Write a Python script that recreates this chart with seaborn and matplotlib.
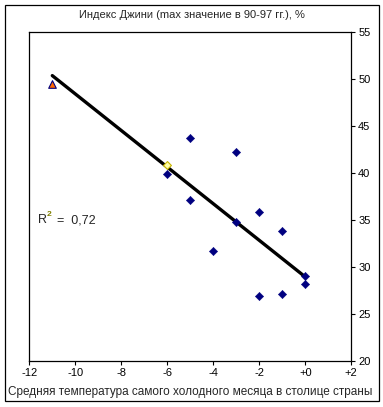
import numpy as np
import pandas as pd
import matplotlib
matplotlib.use("Agg")
import matplotlib.pyplot as plt
import matplotlib.patches as patches
import seaborn as sns

# Данные
temp_main = [-6, -5, -5, -4, -3, -3, -2, -2, -1, -1, 0, 0]
gini_main = [39.9, 43.7, 37.1, 31.7, 42.2, 34.75, 35.8, 26.9, 33.8, 27.1, 29.0, 28.2]
temp_tri = [-11]
gini_tri = [49.5]
temp_hollow = [-6]
gini_hollow = [40.9]

x_ticks = [-12, -10, -8, -6, -4, -2, 0, 2]
x_tick_labels = ["-12", "-10", "-8", "-6", "-4", "-2", "+0", "+2"]
y_ticks = [20, 25, 30, 35, 40, 45, 50, 55]

df_main = pd.DataFrame({"temp": temp_main, "gini": gini_main})
df_all = pd.DataFrame({"temp": temp_main + temp_tri + temp_hollow,
                       "gini": gini_main + gini_tri + gini_hollow})

sns.set_style("white")
plt.rcParams["font.family"] = ["Liberation Sans", "DejaVu Sans"]

fig = plt.figure(figsize=(3.83, 4.07), dpi=100)
ax = fig.add_axes([0.0765, 0.1138, 0.8407, 0.8068])

# Линия тренда по всем точкам
sns.regplot(data=df_all, x="temp", y="gini", scatter=False, ci=None, ax=ax,
            line_kws={"color": "black", "lw": 2.4})

sns.scatterplot(data=df_main, x="temp", y="gini", marker="D", s=18,
                color="#000080", edgecolor="#000080", ax=ax, zorder=3)
ax.scatter(temp_hollow, gini_hollow, marker="D", s=16, facecolor="#FFFFAA",
           edgecolor="#C8B400", linewidth=0.8, zorder=4)
ax.scatter(temp_tri, gini_tri, marker="^", s=30, facecolor="#FF6600",
           edgecolor="#000080", linewidth=0.8, zorder=4)

ax.set_xlim(-12, 2)
ax.set_ylim(20, 55)
ax.set_xticks(x_ticks)
ax.set_xticklabels(x_tick_labels)
ax.set_yticks(y_ticks)
ax.yaxis.tick_right()
ax.tick_params(axis="both", direction="out", length=3, width=0.8,
               labelsize=8, colors="black", pad=2)
ax.tick_params(axis="x", bottom=True)
ax.tick_params(axis="y", right=True, left=False)
ax.set_xlabel("")
ax.set_ylabel("")
for sp in ax.spines.values():
    sp.set_visible(True)
    sp.set_color("black")
    sp.set_linewidth(0.9)

# R^2
ax.annotate("R", xy=(0.027, 0.428), xycoords="axes fraction", fontsize=9,
            va="center", ha="left")
ax.annotate("2", xy=(0.027, 0.428), xycoords="axes fraction", xytext=(6, 4),
            textcoords="offset points", fontsize=6, va="center", ha="left",
            color="#808000", fontweight="bold")
ax.annotate("=  0,72", xy=(0.027, 0.428), xycoords="axes fraction", xytext=(14, 0),
            textcoords="offset points", fontsize=9, va="center", ha="left")

fig.text(0.501, 0.963, "Индекс Джини (max значение в 90-97 гг.), %",
         ha="center", va="center", fontsize=8)
fig.text(0.496, 0.037, "Средняя температура самого холодного месяца в столице страны",
         ha="center", va="center", fontsize=8.5)

fig.patches.append(patches.Rectangle((0.013, 0.0147), 0.9766, 0.973, fill=False,
                                     edgecolor="black", linewidth=0.9,
                                     transform=fig.transFigure, figure=fig))

fig.savefig("out.png", dpi=100, facecolor="white")
